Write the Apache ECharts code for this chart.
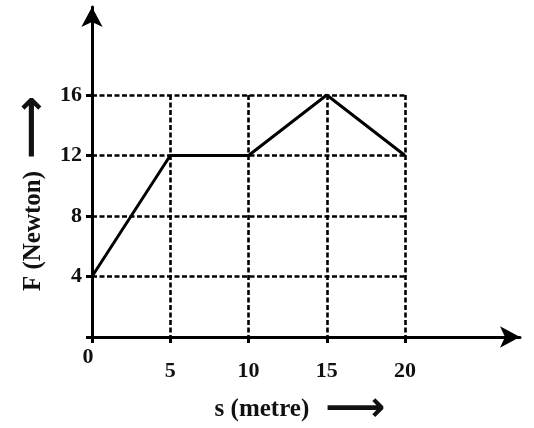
<!DOCTYPE html>
<html><head><meta charset="utf-8">
<script src="https://cdn.jsdelivr.net/npm/echarts@6/dist/echarts.min.js"></script>
<style>html,body{margin:0;padding:0;background:#fff}#c{width:534px;height:428px}</style>
</head><body><div id="c"></div>
<script>
const sValues = [0, 5, 10, 15, 20];
const fValues = [4, 12, 12, 16, 12];
const xTicks = [0, 5, 10, 15, 20];
const yTicks = [4, 8, 12, 16];
const xName = 's (metre)';
const yName = 'F (Newton)';

const FONT = '"Liberation Serif", "Times New Roman", serif';
const chart = echarts.init(document.getElementById('c'), null, {renderer: 'canvas'});
chart.setOption({
  animation: false,
  backgroundColor: '#fff',
  grid: [
    {left: 92, right: 129, top: 95, bottom: 91, containLabel: false, outerBoundsMode: 'none'},
    {left: 92, right: 14, top: 7, bottom: 91, containLabel: false, outerBoundsMode: 'none'}
  ],
  xAxis: [
    {gridIndex: 0, type: 'value', min: 0, max: 20, interval: 5,
     axisLine: {show: false},
     axisTick: {show: true, length: 6, lineStyle: {color: '#000', width: 3}},
     splitLine: {show: true, lineStyle: {color: '#000', width: 2.6, type: [5, 2.5]}},
     axisLabel: {margin: 9, fontFamily: FONT, fontWeight: 'bold', fontSize: 22, color: '#111',
       formatter: v => v === 0 ? '{z|0}' : '{n|' + v + '}',
       rich: {z: {fontFamily: FONT, fontWeight: 'bold', fontSize: 22, color: '#111', padding: [0, 8, 0, 0]},
              n: {fontFamily: FONT, fontWeight: 'bold', fontSize: 22, color: '#111', padding: [14, 0, 0, 0]}}},
     name: '{t|' + xName + '}{s| }{a|⟶}', nameLocation: 'middle', nameGap: 52,
     nameTextStyle: {padding: [0, 0, 0, 103],
       rich: {t: {fontFamily: FONT, fontWeight: 'bold', fontSize: 25, color: '#111'},
              s: {fontSize: 16, width: 16},
              a: {fontFamily: 'DejaVu Sans', fontWeight: 'bold', fontSize: 42, color: '#111'}}}
    },
    {gridIndex: 1, type: 'value', min: 0, max: 1,
     axisLine: {show: true, symbol: ['none', 'arrow'], symbolSize: [16, 20], symbolOffset: [0, 0],
       lineStyle: {color: '#000', width: 3}},
     axisTick: {show: false}, axisLabel: {show: false}, splitLine: {show: false}}
  ],
  yAxis: [
    {gridIndex: 0, type: 'value', min: 0, max: 16, interval: 4,
     axisLine: {show: false},
     axisTick: {show: true, length: 6, lineStyle: {color: '#000', width: 3}},
     splitLine: {show: true, showMinLine: false, lineStyle: {color: '#000', width: 2.6, type: [5, 2.5]}},
     axisLabel: {margin: 10, fontFamily: FONT, fontWeight: 'bold', fontSize: 22, color: '#111',
       formatter: v => v === 0 ? '' : String(v)},
     name: '{t|' + yName + '}{s| }{a|⟶}', nameLocation: 'middle', nameGap: 36, nameRotate: 90,
     nameMoveOverlap: false,
     nameTextStyle: {padding: [0, 0, 0, 45],
       rich: {t: {fontFamily: FONT, fontWeight: 'bold', fontSize: 25, color: '#111'},
              s: {fontSize: 12, width: 12},
              a: {fontFamily: 'DejaVu Sans', fontWeight: 'bold', fontSize: 44, color: '#111'}}}
    },
    {gridIndex: 1, type: 'value', min: 0, max: 1,
     axisLine: {show: true, symbol: ['none', 'arrow'], symbolSize: [16, 20], symbolOffset: [0, 0],
       lineStyle: {color: '#000', width: 3}},
     axisTick: {show: false}, axisLabel: {show: false}, splitLine: {show: false}}
  ],
  series: [{
    type: 'line', xAxisIndex: 0, yAxisIndex: 0,
    data: sValues.map((s, i) => [s, fValues[i]]),
    showSymbol: false, symbol: 'none',
    lineStyle: {color: '#000', width: 3}
  }]
});
</script></body></html>
